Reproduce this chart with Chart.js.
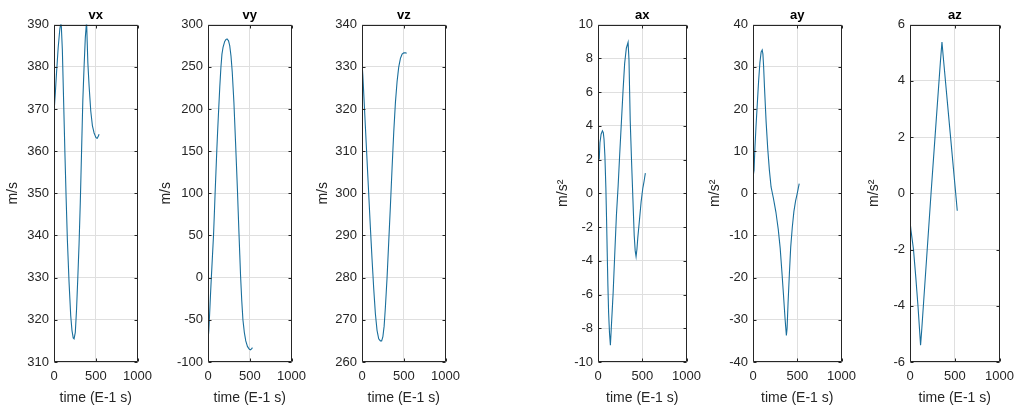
<!DOCTYPE html>
<html>
<head>
<meta charset="utf-8">
<script src="https://cdn.jsdelivr.net/npm/chart.js@4.4.1/dist/chart.umd.min.js"></script>
<style>
    html, body { margin: 0; padding: 0; background: #fff; }
    body { width: 1018px; height: 409px; position: relative; overflow: hidden; }
    canvas { position: absolute; top: 0; }
</style>
</head>
<body>
<script>
// time axis is in tenths of a second
const xTicks = [0, 500, 1000];

const vxTime = [0, 3, 15, 30, 50, 70, 85, 100, 115, 130, 145, 160, 180, 200, 215, 230, 240, 255, 270, 285, 300, 315, 330, 345, 360, 375, 390, 405, 420, 440, 460, 480, 500, 515, 530, 540];
const vxValues = [366.5, 370, 373.5, 378.5, 384.5, 389, 390.8, 384, 372, 360, 349, 339, 329, 321, 317.5, 315.7, 315.5, 317, 322.5, 330, 338, 348, 360, 372, 380, 387, 390.8, 381, 375.5, 369.5, 366, 364.3, 363.3, 363, 363.5, 364];

const vyTime = [0, 10, 20, 30, 40, 53, 66, 75, 85, 95, 105, 116, 128, 141, 155, 167, 180, 200, 215, 228, 245, 260, 275, 290, 310, 330, 352, 371, 390, 404, 418, 435, 452, 472, 495, 510, 520, 532];
const vyValues = [-75, -62, -42, -20, 0, 25, 50, 73, 100, 125, 150, 175, 200, 226, 250, 265, 273, 280, 282.5, 283, 281, 275, 263, 244, 208, 160, 105, 52, 2, -27, -50, -65, -75, -81.5, -85, -85.5, -84.5, -83];

const vzTime = [0, 10, 25, 40, 60, 80, 100, 120, 140, 160, 180, 200, 220, 235, 250, 265, 280, 300, 320, 340, 360, 380, 400, 420, 440, 460, 480, 500, 520, 535];
const vzValues = [331, 328, 322, 316, 308, 300, 292, 284.5, 277.5, 271.5, 267.5, 265.5, 265, 265, 266, 268.5, 273, 280, 288.5, 297, 306, 314.5, 321.5, 326.5, 330, 332, 333, 333.3, 333.3, 333.2];

const axTime = [0, 8, 14, 22, 35, 50, 60, 68, 78, 89, 97, 104, 112, 120, 130, 140, 150, 160, 171, 190, 208, 227, 245, 264, 283, 301, 320, 340, 350, 364, 379, 394, 409, 420, 430, 440, 450, 468, 487, 506, 520, 535];
const axValues = [1.6, 2.3, 2.0, 3.0, 3.5, 3.7, 3.6, 3.2, 2.2, 0.3, -1.6, -3.5, -5.5, -7.1, -8.3, -9.0, -8.0, -7.0, -5.9, -3.5, -1.3, 0.4, 2.3, 4.2, 6.1, 7.7, 8.6, 8.95, 7.9, 4.3, 1.9, -0.3, -2.5, -3.4, -3.75, -3.3, -2.6, -1.6, -0.5, 0.3, 0.7, 1.2];

const ayTime = [0, 5, 12, 20, 33, 48, 63, 78, 92, 104, 112, 120, 130, 148, 166, 185, 204, 229, 259, 285, 307, 326, 344, 363, 377, 385, 396, 411, 426, 444, 462, 481, 500, 522];
const ayValues = [0.5, 4.5, 5.5, 10, 15.5, 21, 26.5, 31, 33.5, 34, 33, 30, 25, 17, 10.7, 5.5, 1.5, -1.0, -4.5, -8.5, -13, -18.5, -24, -30, -33.7, -32, -26, -19, -12.7, -8, -4.3, -1.8, 0, 2.3];

const azTime = [0, 4, 10, 39, 65, 89, 118, 130, 175, 235, 295, 340, 357, 370, 528];
const azValues = [0.1, -1.1, -1.3, -2.0, -3.0, -4.0, -5.4, -4.9, -2.8, 0, 2.7, 4.7, 5.38, 4.9, -0.62];

const panels = [
    { title: "vx", unit: "m/s", time: vxTime, values: vxValues, yMin: 310, yMax: 390, yStep: 10, left: 53.5, width: 85, labelGap: 40.5 },
    { title: "vy", unit: "m/s", time: vyTime, values: vyValues, yMin: -100, yMax: 300, yStep: 50, left: 207.5, width: 85, labelGap: 42 },
    { title: "vz", unit: "m/s", time: vzTime, values: vzValues, yMin: 260, yMax: 340, yStep: 10, left: 361.5, width: 85, labelGap: 39 },
    { title: "ax", unit: "m/s\u00b2", time: axTime, values: axValues, yMin: -10, yMax: 10, yStep: 2, left: 597.5, width: 90, labelGap: 35 },
    { title: "ay", unit: "m/s\u00b2", time: ayTime, values: ayValues, yMin: -40, yMax: 40, yStep: 10, left: 753, width: 90.5, labelGap: 38 },
    { title: "az", unit: "m/s\u00b2", time: azTime, values: azValues, yMin: -6, yMax: 6, yStep: 2, left: 909.5, width: 91, labelGap: 36 }
];

const PAGE_H = 409;
const BOX_BOTTOM = 362;
const Y_AXIS_W = 60;
const RIGHT_PAD = 20;
const FONT = "'Liberation Sans', Arial, Helvetica, sans-serif";
const lineColor = "#1a6f9c";
const textColor = "#262626";
const gridColor = "#dfdfdf";

// matlab style box with inward tick marks
const framePlugin = {
    id: "frame",
    afterDatasetsDraw(chart) {
        const { ctx, chartArea: a, scales } = chart;
        const l = Math.round(a.left) + 0.5, r = Math.round(a.right) - 0.5;
        const t = Math.round(a.top) + 0.5, b = Math.round(a.bottom) - 0.5;
        ctx.save();
        ctx.strokeStyle = textColor;
        ctx.lineWidth = 1;
        ctx.beginPath();
        scales.y.ticks.forEach(tick => {
            const y = Math.round(scales.y.getPixelForValue(tick.value)) + 0.5;
            ctx.moveTo(l, y); ctx.lineTo(l + 3, y);
            ctx.moveTo(r, y); ctx.lineTo(r - 3, y);
        });
        scales.x.ticks.forEach(tick => {
            const x = Math.round(scales.x.getPixelForValue(tick.value)) + 0.5;
            ctx.moveTo(x, t); ctx.lineTo(x, t + 3);
            ctx.moveTo(x, b); ctx.lineTo(x, b - 3);
        });
        ctx.rect(l, t, r - l, b - t);
        ctx.stroke();
        ctx.restore();
    }
};

function createPanel(p) {
    const canvas = document.createElement("canvas");
    canvas.width = Y_AXIS_W + p.width + RIGHT_PAD;
    canvas.height = PAGE_H;
    canvas.style.left = (p.left - Y_AXIS_W) + "px";
    document.body.appendChild(canvas);

    new Chart(canvas, {
        type: "line",
        data: {
            datasets: [{
                data: p.time.map((t, i) => ({ x: t, y: p.values[i] })),
                borderColor: lineColor,
                borderWidth: 1.1,
                pointRadius: 0,
                tension: 0.0001, // keeps chart.js off its fast path, which merged close points into vertical jags
                fill: false
            }]
        },
        options: {
            responsive: false,
            animation: false,
            events: [],
            layout: { padding: { left: 0, right: RIGHT_PAD, top: 0, bottom: 0 } },
            plugins: {
                legend: { display: false },
                tooltip: { enabled: false },
                title: {
                    display: true,
                    text: p.title,
                    color: "#000",
                    fullSize: false,
                    font: { family: FONT, size: 13, weight: "bold" },
                    padding: { top: 8, bottom: 1 }
                }
            },
            scales: {
                x: {
                    type: "linear",
                    min: 0,
                    max: 1000,
                    afterBuildTicks: scale => { scale.ticks = xTicks.map(v => ({ value: v })); },
                    afterFit: scale => { scale.height = PAGE_H - BOX_BOTTOM; },
                    ticks: {
                        color: textColor,
                        font: { family: FONT, size: 13 },
                        padding: 7,
                        maxRotation: 0,
                        callback: v => String(v)
                    },
                    grid: { color: gridColor, drawTicks: false },
                    border: { display: false },
                    title: {
                        display: true,
                        text: "time (E-1 s)",
                        color: textColor,
                        font: { family: FONT, size: 14 },
                        padding: { top: 0, bottom: 2.5 }
                    }
                },
                y: {
                    min: p.yMin,
                    max: p.yMax,
                    afterFit: scale => { scale.width = Y_AXIS_W; },
                    ticks: {
                        stepSize: p.yStep,
                        color: textColor,
                        font: { family: FONT, size: 13 },
                        padding: 5,
                        callback: v => String(v)
                    },
                    grid: { color: gridColor, drawTicks: false },
                    border: { display: false },
                    title: {
                        display: true,
                        text: p.unit,
                        color: textColor,
                        font: { family: FONT, size: 14 },
                        padding: { top: Y_AXIS_W - p.labelGap - 8.4, bottom: 0 }
                    }
                }
            }
        },
        plugins: [framePlugin]
    });
}

panels.forEach(createPanel);
</script>
</body>
</html>
